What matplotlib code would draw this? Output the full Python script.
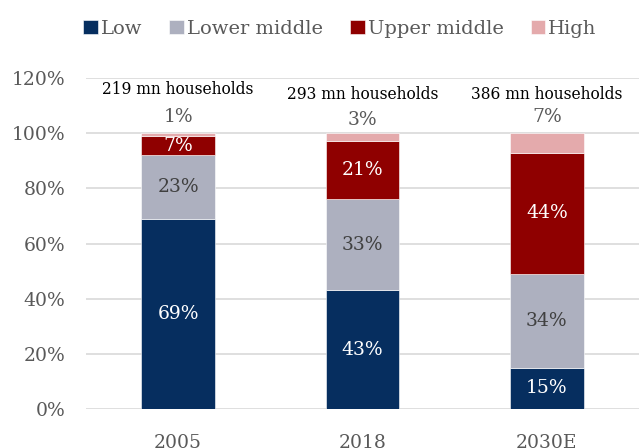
import numpy as np
import matplotlib.pyplot as plt

years = ['2005', '2018', '2030E']
low = [69, 43, 15]
lower_mid = [23, 33, 34]
upper_mid = [7, 21, 44]
high = [1, 3, 7]
households = ['219 mn households', '293 mn households', '386 mn households']

plt.rcParams['font.family'] = ['DejaVu Serif']

fig = plt.figure(figsize=(6.39, 4.48), dpi=100)
ax = fig.add_axes([0.1346, 0.087, 0.8654, 0.7388])

x = np.arange(len(years))
w = 0.4
series = [
    ('Low', low, '#062e5f', 'white'),
    ('Lower middle', lower_mid, '#adb0bf', '#404040'),
    ('Upper middle', upper_mid, '#8f0000', 'white'),
    ('High', high, '#e4aaac', None),
]

bottom = np.zeros(len(years))
for name, vals, col, tcol in series:
    vals = np.array(vals, dtype=float)
    ax.bar(x, vals, w, bottom=bottom, color=col, label=name,
           edgecolor='white', linewidth=0.4, zorder=3)
    if tcol is not None:
        for xi, b, v in zip(x, bottom, vals):
            ax.text(xi, b + v / 2, f'{v:.0f}%', ha='center', va='center',
                    color=tcol, fontsize=13.5, zorder=4)
    bottom += vals

# High share written above each bar, with the household count
hh_y = [115.7, 113.9, 113.9]
pct_y = [105.8, 104.8, 105.8]
for xi, v, hh, hy, py in zip(x, high, households, hh_y, pct_y):
    ax.text(xi, py, f'{v}%', ha='center', va='center', color='#595959',
            fontsize=13.5)
    ax.text(xi, hy, hh, ha='center', va='center', color='black',
            fontsize=11.2)

ax.set_xlim(-0.5, 2.5)
ax.set_ylim(0, 120)
ax.set_yticks(np.arange(0, 121, 20))
ax.set_yticklabels([f'{t}%' for t in range(0, 121, 20)])
ax.set_xticks(x)
ax.set_xticklabels(years)
ax.tick_params(axis='both', length=0, labelsize=13.5, labelcolor='#595959')
ax.tick_params(axis='x', pad=18)
ax.tick_params(axis='y', pad=15)
ax.yaxis.grid(True, color='#d9d9d9', linewidth=1.2, zorder=0)
ax.set_axisbelow(True)
for s in ax.spines.values():
    s.set_visible(False)

fig.legend(loc='center left', bbox_to_anchor=(0.13, 0.935), ncol=4,
           frameon=False, fontsize=14, handlelength=0.75, handleheight=0.75,
           handletextpad=0.15, columnspacing=1.4, labelcolor='#595959',
           borderaxespad=0, borderpad=0)

fig.savefig('out.png', dpi=100)
